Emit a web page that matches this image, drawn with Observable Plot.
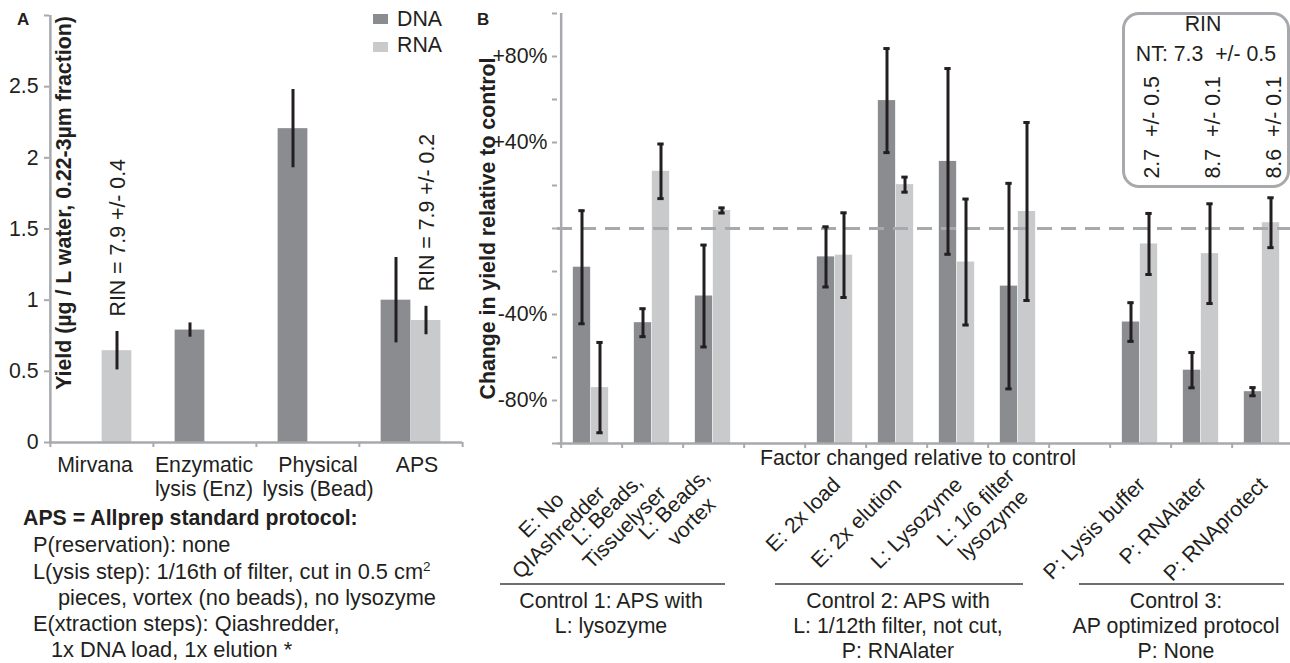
<!DOCTYPE html>
<html>
<head>
<meta charset="utf-8">
<script src="https://cdn.jsdelivr.net/npm/d3@7"></script>
<script src="https://cdn.jsdelivr.net/npm/@observablehq/plot@0.6"></script>
<style>
  html, body { margin: 0; padding: 0; overflow: hidden; background: white; }
  #fig { position: relative; width: 1290px; height: 663px; overflow: hidden; background: white;
         font-family: 'Liberation Sans', Arial, Helvetica, sans-serif; color: #231f20; }
  #fig .lbl { position: absolute; white-space: pre; }
  #fig sup { font-size: 0.62em; line-height: 0; vertical-align: 0.62em; }
</style>
</head>
<body>
<div id="fig"></div>
<script>
// ---------------- data: panel A ----------------
const catsA = ["Mirvana", "Enzymatic\nlysis (Enz)", "Physical\nlysis (Bead)", "APS"];
const dnaA = [null, 0.79, 2.205, 1.0];
const dnaErrA = [null, 0.05, 0.275, 0.30];
const rnaA = [0.645, null, null, 0.857];
const rnaErrA = [0.135, null, null, 0.10];
const rinA = ["RIN = 7.9 +/- 0.4", null, null, "RIN = 7.9 +/- 0.2"];
const ticksA = [0, 0.5, 1, 1.5, 2, 2.5, 3];
const tickLabelsA = ["0", "0.5", "1", "1.5", "2", "2.5", ""];
const yLabelA = "Yield (µg / L water, 0.22-3µm fraction)";
const seriesNames = ["DNA", "RNA"];

// ---------------- data: panel B ----------------
const factorsB = ["E: No\nQIAshredder", "L: Beads,\nTissuelyser", "L: Beads,\nvortex", null,
                  "E: 2x load", "E: 2x elution", "L: Lysozyme", "L: 1/6 filter\nlysozyme", null,
                  "P: Lysis buffer", "P: RNAlater", "P: RNAprotect"];
const dnaB = [-18, -43.8, -31.4, null, -13.2, 59.5, 31.2, -26.8, null, -43.5, -65.9, -75.9];
const dnaErrB = [26.3, 6.5, 23.7, null, 14, 24.2, 43.2, 47.8, null, 9, 8.2, 1.9];
const rnaB = [-74, 26.6, 8.4, null, -12.4, 20.4, -15.6, 7.9, null, -7.2, -11.7, 2.7];
const rnaErrB = [21, 12.7, 1.2, null, 19.7, 3.5, 29.3, 41.4, null, 14.2, 23.2, 11.6];
const rinB = [null, null, null, null, null, null, null, null, null, "2.7  +/- 0.5", "8.7  +/- 0.1", "8.6  +/- 0.1"];
const ticksB = [-100, -80, -60, -40, -20, 0, 20, 40, 60, 80, 100];
const tickLabelsB = ["", "-80%", "", "-40%", "", "", "", "+40%", "", "+80%", ""];
const yLabelB = "Change in yield relative to control";
const xLabelB = "Factor changed relative to control";
const groupLabelsB = ["Control 1: APS with\nL: lysozyme",
                      "Control 2: APS with\nL: 1/12th filter, not cut,\nP: RNAlater",
                      "Control 3:\nAP optimized protocol\nP: None"];
const rinBoxTitle = "RIN";
const rinBoxNT = "NT: 7.3  +/- 0.5";
const apsNote = [
  "APS = Allprep standard protocol:",
  "P(reservation): none",
  "L(ysis step): 1/16th of filter, cut in 0.5 cm<sup>2</sup>",
  "pieces, vortex (no beads), no lysozyme",
  "E(xtraction steps): Qiashredder,",
  "1x DNA load, 1x elution *"
];

// ---------------- styles / layout ----------------
const DNA_C = "#8b8c90", RNA_C = "#c9cacc", AX = "#a7a9ac", INK = "#231f20", GRP = "#6d6e71";
const FONT = "'Liberation Sans', Arial, Helvetica, sans-serif";
const FS = 21.3;
const baseStyle = {fontFamily: FONT, fontSize: FS + "px", color: INK, background: "transparent", overflow: "visible", maxWidth: "none"};
const catLabelNudgeA = [-7, -1, 10, 6];

const fig = document.getElementById("fig");

function label(html, x, base, {size = FS, lh = 25, align = "left", bold = false, width = 400} = {}) {
  const d = document.createElement("div");
  d.className = "lbl";
  const off = (lh - 1.117 * size) / 2 + 0.905 * size;
  d.style.top = (base - off) + "px";
  d.style.fontSize = size + "px";
  d.style.lineHeight = lh + "px";
  d.style.fontWeight = bold ? "700" : "400";
  if (align === "center") {
    d.style.left = (x - width / 2) + "px";
    d.style.width = width + "px";
    d.style.textAlign = "center";
  } else d.style.left = x + "px";
  d.innerHTML = html;
  fig.appendChild(d);
  return d;
}
function box(x, y, w, h, css) {
  const d = document.createElement("div");
  d.style.cssText = `position:absolute;left:${x}px;top:${y}px;width:${w}px;height:${h}px;box-sizing:border-box;${css}`;
  fig.appendChild(d);
  return d;
}

// ---------------- panel A ----------------
const rowsA = catsA.map((c, i) => ({cat: c, dna: dnaA[i], dnaErr: dnaErrA[i], rna: rnaA[i], rnaErr: rnaErrA[i], rin: rinA[i]}));
const dnaRowsA = rowsA.filter(d => d.dna != null);
const rnaRowsA = rowsA.filter(d => d.rna != null);
const AW = 480, AL = 49, AR = 462, AT = 15, AB = 442;
const bwA = (AR - AL) / catsA.length;
const barWA = 30;

const plotA = Plot.plot({
  width: AW, height: 663,
  marginLeft: AL, marginRight: AW - AR, marginTop: AT, marginBottom: 663 - AB,
  style: baseStyle,
  x: {domain: catsA, padding: 0, label: null},
  y: {domain: [0, 3], label: null},
  marks: [
    Plot.barY(dnaRowsA, {x: "cat", y: "dna", fill: DNA_C, insetLeft: bwA / 2 - barWA, insetRight: bwA / 2}),
    Plot.barY(rnaRowsA, {x: "cat", y: "rna", fill: RNA_C, insetLeft: bwA / 2, insetRight: bwA / 2 - barWA}),
    Plot.ruleX(dnaRowsA, {x: "cat", y1: d => d.dna - d.dnaErr, y2: d => d.dna + d.dnaErr, dx: -barWA / 2, stroke: INK, strokeWidth: 3}),
    Plot.ruleX(rnaRowsA, {x: "cat", y1: d => d.rna - d.rnaErr, y2: d => d.rna + d.rnaErr, dx: barWA / 2, stroke: INK, strokeWidth: 3}),
    Plot.text(rowsA.filter(d => d.rin), {x: "cat", y: d => d.rna + d.rnaErr, text: "rin", rotate: -90, textAnchor: "start",
      dx: barWA / 2 + 1, dy: -15, fontSize: FS, fill: INK}),
    Plot.ruleY([0], {stroke: AX, strokeWidth: 2.5}),
    Plot.ruleX([catsA[0]], {dx: -bwA / 2, stroke: AX, strokeWidth: 2.5}),
    Plot.axisY({ticks: ticksA, tickFormat: d => tickLabelsA[ticksA.indexOf(d)], tickSize: 5, tickPadding: 6,
      stroke: AX, strokeWidth: 2, fill: INK, fontSize: FS}),
    Plot.axisX({ticks: catsA, tickFormat: () => "", tickSize: 5, dx: -bwA / 2, stroke: AX, strokeWidth: 2}),
    Plot.axisX({ticks: [catsA[catsA.length - 1]], tickFormat: () => "", tickSize: 5, dx: bwA / 2, stroke: AX, strokeWidth: 2}),
    ...catsA.map((c, k) => Plot.text([c], {x: d => d, frameAnchor: "bottom", dx: catLabelNudgeA[k], dy: 13,
      lineAnchor: "top", lineHeight: 1.1, fontSize: FS, fill: INK})),
    Plot.text([yLabelA], {frameAnchor: "left", rotate: -90, textAnchor: "middle", dx: 15, dy: -26,
      fontWeight: "bold", fontSize: FS, fill: INK})
  ]
});
const divA = document.createElement("div");
divA.style.cssText = `position:absolute;left:0;top:0;width:${AW}px;`;
divA.appendChild(plotA);
fig.appendChild(divA);

// ---------------- panel B ----------------
const BX0 = 440, BW = 857, BL = 117, BT = 13, BB = 443;
const idxB = factorsB.map((_, i) => i);
const rowsB = idxB.map(i => ({i, label: factorsB[i], dna: dnaB[i], dnaErr: dnaErrB[i], rna: rnaB[i], rnaErr: rnaErrB[i], rin: rinB[i]}));
const dnaRowsB = rowsB.filter(d => d.dna != null);
const rnaRowsB = rowsB.filter(d => d.rna != null);
const bwB = (BW - BL) / factorsB.length;
const dnaOff = [-19, -1], rnaOff = [-1, 17];   // bar extents relative to slot centre
const capW = 7;
const dnaC = (dnaOff[0] + dnaOff[1]) / 2, rnaC = (rnaOff[0] + rnaOff[1]) / 2;

// RIN box (drawn behind the plot)
box(1122, 12, 168, 176, `border:3px solid ${AX};border-radius:17px;`);
label(rinBoxTitle, 1203, 32, {align: "center", width: 160});
label(rinBoxNT, 1206, 62, {align: "center", width: 170});

const plotB = Plot.plot({
  width: BW, height: 663,
  marginLeft: BL, marginRight: 0, marginTop: BT, marginBottom: 663 - BB,
  style: baseStyle,
  x: {domain: idxB, padding: 0, label: null},
  y: {domain: [-100, 100], label: null},
  marks: [
    Plot.barY(dnaRowsB, {x: "i", y1: -100, y2: "dna", fill: DNA_C, insetLeft: bwB / 2 + dnaOff[0], insetRight: bwB / 2 - dnaOff[1]}),
    Plot.barY(rnaRowsB, {x: "i", y1: -100, y2: "rna", fill: RNA_C, insetLeft: bwB / 2 + rnaOff[0], insetRight: bwB / 2 - rnaOff[1]}),
    Plot.ruleY([0], {stroke: AX, strokeWidth: 3, strokeDasharray: "15,9"}),
    Plot.ruleX(dnaRowsB, {x: "i", y1: d => d.dna - d.dnaErr, y2: d => d.dna + d.dnaErr, dx: dnaC, stroke: INK, strokeWidth: 3}),
    Plot.ruleX(rnaRowsB, {x: "i", y1: d => d.rna - d.rnaErr, y2: d => d.rna + d.rnaErr, dx: rnaC, stroke: INK, strokeWidth: 3}),
    ...[1, -1].map(s => Plot.tickY(dnaRowsB, {x: "i", y: d => d.dna + s * d.dnaErr, stroke: INK, strokeWidth: 3,
      insetLeft: bwB / 2 + dnaC - capW / 2, insetRight: bwB / 2 - dnaC - capW / 2})),
    ...[1, -1].map(s => Plot.tickY(rnaRowsB, {x: "i", y: d => d.rna + s * d.rnaErr, stroke: INK, strokeWidth: 3,
      insetLeft: bwB / 2 + rnaC - capW / 2, insetRight: bwB / 2 - rnaC - capW / 2})),
    Plot.ruleY([-100], {stroke: AX, strokeWidth: 2.5}),
    Plot.ruleX([idxB[0]], {dx: -bwB / 2, stroke: AX, strokeWidth: 2.5}),
    Plot.axisY({ticks: ticksB, tickFormat: d => tickLabelsB[ticksB.indexOf(d)], tickSize: 5, tickPadding: 5,
      stroke: AX, strokeWidth: 2, fill: INK, fontSize: FS}),
    Plot.axisX({ticks: idxB, tickFormat: () => "", tickSize: 5, dx: -bwB / 2, stroke: AX, strokeWidth: 2}),
    Plot.text(rowsB.filter(d => d.label), {x: "i", text: "label", frameAnchor: "bottom", dx: 0, dy: 37, rotate: -45,
      textAnchor: "end", lineAnchor: "middle", lineHeight: 1.15, fontSize: FS, fill: INK}),
    Plot.text(rowsB.filter(d => d.rin), {x: "i", text: "rin", frameAnchor: "top", dx: 3, dy: 165, rotate: -90,
      textAnchor: "start", fontSize: FS, fill: INK}),
    Plot.text([yLabelB], {frameAnchor: "left", rotate: -90, textAnchor: "middle", dx: -69,
      fontWeight: "bold", fontSize: FS, fill: INK})
  ]
});
const divB = document.createElement("div");
divB.style.cssText = `position:absolute;left:${BX0}px;top:0;width:${BW}px;`;
divB.appendChild(plotB);
fig.appendChild(divB);

// centre the lines of the multi-line rotated factor labels (as in the original)
plotB.querySelectorAll("text").forEach(t => {
  const tr = t.getAttribute("transform") || "";
  if (!/rotate\(-45\)/.test(tr)) return;
  const sp = t.querySelectorAll("tspan");
  if (sp.length < 2) return;
  const w = Math.max(...Array.from(sp, s => s.getComputedTextLength()));
  t.setAttribute("text-anchor", "middle");
  t.style.textAnchor = "middle";
  sp.forEach(s => s.setAttribute("x", -w / 2));
});

// ---------------- annotations ----------------
label("A", 17, 25, {size: 17, bold: true});
label("B", 477, 25, {size: 17, bold: true});

// legend
box(373, 14, 15, 10, `background:${DNA_C};`);
box(373, 42, 15, 10, `background:${RNA_C};`);
label(seriesNames[0], 397, 27);
label(seriesNames[1], 397, 53);

// x-axis title of panel B
label(xLabelB, 918, 466, {align: "center", width: 420});

// control groups
const groupLayout = [{x1: 500, x2: 725, cx: 611}, {x1: 775, x2: 1023, cx: 898}, {x1: 1079, x2: 1284, cx: 1176}];
groupLabelsB.forEach((g, k) => {
  const L = groupLayout[k];
  box(L.x1, 583, L.x2 - L.x1, 2, `background:${GRP};`);
  label(g, L.cx, 609, {align: "center", width: 300, lh: 25});
});

// APS note
const noteX = [23, 33, 33, 58, 33, 51];
apsNote.forEach((line, k) => label(line, noteX[k], 526 + k * 26.3, {bold: k === 0, size: k === 0 ? FS : 21.8}));
</script>
</body>
</html>
